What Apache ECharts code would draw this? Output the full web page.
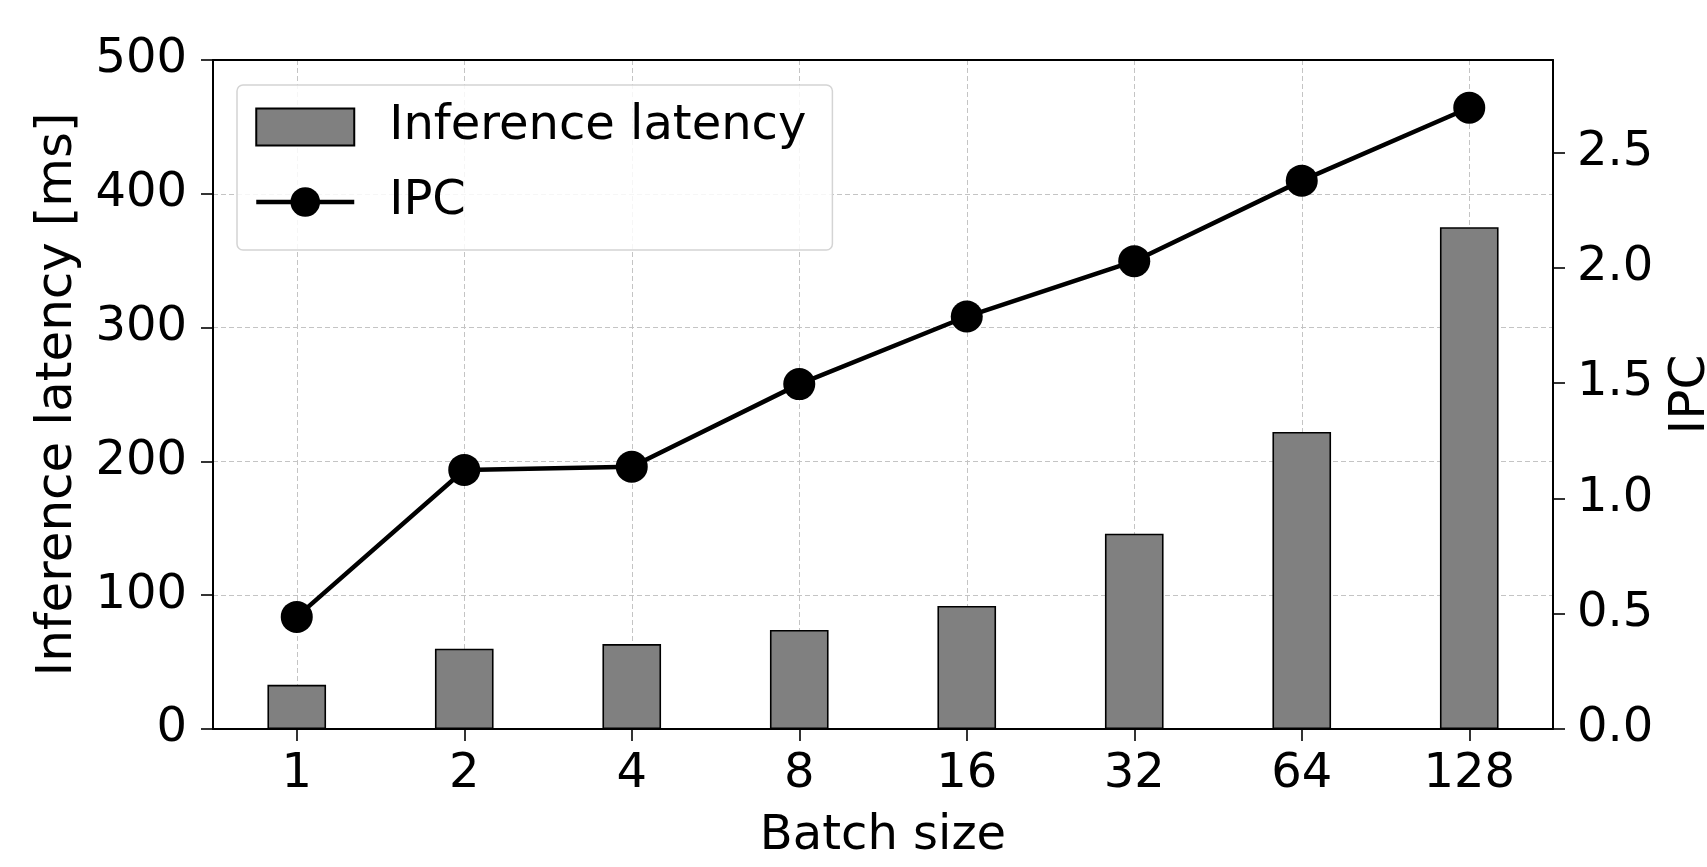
<!DOCTYPE html>
<html>
<head>
<meta charset="utf-8">
<script src="https://cdn.jsdelivr.net/npm/echarts@6/dist/echarts.min.js"></script>
<style>
html,body{margin:0;padding:0;background:#fff;}
#chart{width:1707px;height:867px;}
</style>
</head>
<body>
<div id="chart"></div>
<script>
const categories = ['1', '2', '4', '8', '16', '32', '64', '128'];
const latency = [33, 60, 63.5, 74, 92, 146, 222, 375];
const ipc = [0.486, 1.123, 1.137, 1.495, 1.788, 2.028, 2.377, 2.693];
const ipcTicks = [0, 0.5, 1.0, 1.5, 2.0, 2.5];

const FONT = 'DejaVu Sans';
const FS = 48;
const FS_ROT = 50;
const AXW = 2;

const chart = echarts.init(document.getElementById('chart'));
chart.setOption({
  animation: false,
  backgroundColor: '#fff',
  textStyle: { fontFamily: FONT, color: '#000' },
  grid: {
    left: 213, right: 154, top: 60, bottom: 138,
    outerBoundsMode: 'none',
    containLabel: false,
    show: false
  },
  legend: {
    orient: 'vertical',
    left: 237, top: 85,
    padding: [18, 26, 24, 17],
    itemWidth: 98, itemHeight: 37, itemGap: 27,
    backgroundColor: 'rgba(255,255,255,0.85)',
    borderColor: '#d4d4d4', borderWidth: 1.5, borderRadius: 6,
    lineStyle: { width: 4.5 },
    formatter: name => '{t|' + name + '}',
    textStyle: {
      fontFamily: FONT, fontSize: FS, color: '#000',
      rich: { t: { fontFamily: FONT, fontSize: FS, color: '#000', padding: [0, 0, 0, 30] } }
    },
    data: [
      { name: 'Inference latency', icon: 'rect' },
      { name: 'IPC' }
    ]
  },
  xAxis: [
    {
      type: 'category',
      data: categories,
      name: 'Batch size',
      nameLocation: 'middle',
      nameGap: 84,
      nameTextStyle: { fontFamily: FONT, fontSize: FS, color: '#000' },
      axisLine: { onZero: false, lineStyle: { color: '#000', width: AXW } },
      axisTick: { show: true, alignWithLabel: true, length: 12, lineStyle: { color: '#000', width: 1.6 } },
      axisLabel: { fontFamily: FONT, fontSize: FS, color: '#000', margin: 22 },
      splitLine: { show: true, alignWithLabel: true, lineStyle: { color: '#c4c4c4', width: 1, type: [5, 3] } }
    },
    {
      type: 'category',
      data: categories,
      position: 'top',
      z: 6,
      axisLine: { show: true, onZero: false, lineStyle: { color: '#000', width: AXW } },
      axisTick: { show: false },
      axisLabel: { show: false },
      splitLine: { show: false }
    }
  ],
  yAxis: [
    {
      type: 'value',
      min: 0, max: 500, interval: 100,
      name: 'Inference latency [ms]',
      nameLocation: 'middle',
      nameRotate: 90,
      nameGap: 130,
      nameTextStyle: { fontFamily: FONT, fontSize: FS_ROT, color: '#000' },
      axisLine: { show: true, onZero: false, lineStyle: { color: '#000', width: AXW } },
      axisTick: { show: true, length: 12, lineStyle: { color: '#000', width: 1.6 } },
      axisLabel: { fontFamily: FONT, fontSize: FS, color: '#000', margin: 26 },
      splitLine: { show: true, lineStyle: { color: '#c4c4c4', width: 1, type: [5, 3] } }
    },
    {
      type: 'value',
      min: 0, max: 2.9,
      position: 'right',
      name: 'IPC',
      nameLocation: 'middle',
      nameRotate: 90,
      nameGap: 113,
      nameTextStyle: { fontFamily: FONT, fontSize: FS_ROT, color: '#000' },
      axisLine: { show: true, onZero: false, lineStyle: { color: '#000', width: AXW } },
      axisTick: { show: true, length: 12, customValues: ipcTicks, lineStyle: { color: '#000', width: 1.6 } },
      axisLabel: { fontFamily: FONT, fontSize: FS, color: '#000', margin: 24, customValues: ipcTicks,
        formatter: v => v.toFixed(1) },
      splitLine: { show: false }
    }
  ],
  series: [
    {
      name: 'Inference latency',
      type: 'bar',
      xAxisIndex: 0,
      yAxisIndex: 0,
      data: latency,
      barWidth: '35%',
      itemStyle: { color: '#808080', borderColor: '#000', borderWidth: 1.6 }
    },
    {
      name: 'IPC',
      type: 'line',
      xAxisIndex: 0,
      yAxisIndex: 1,
      data: ipc,
      symbol: 'circle',
      symbolSize: 32,
      lineStyle: { color: '#000', width: 4.5 },
      itemStyle: { color: '#000' },
      z: 5
    }
  ]
});
</script>
</body>
</html>
